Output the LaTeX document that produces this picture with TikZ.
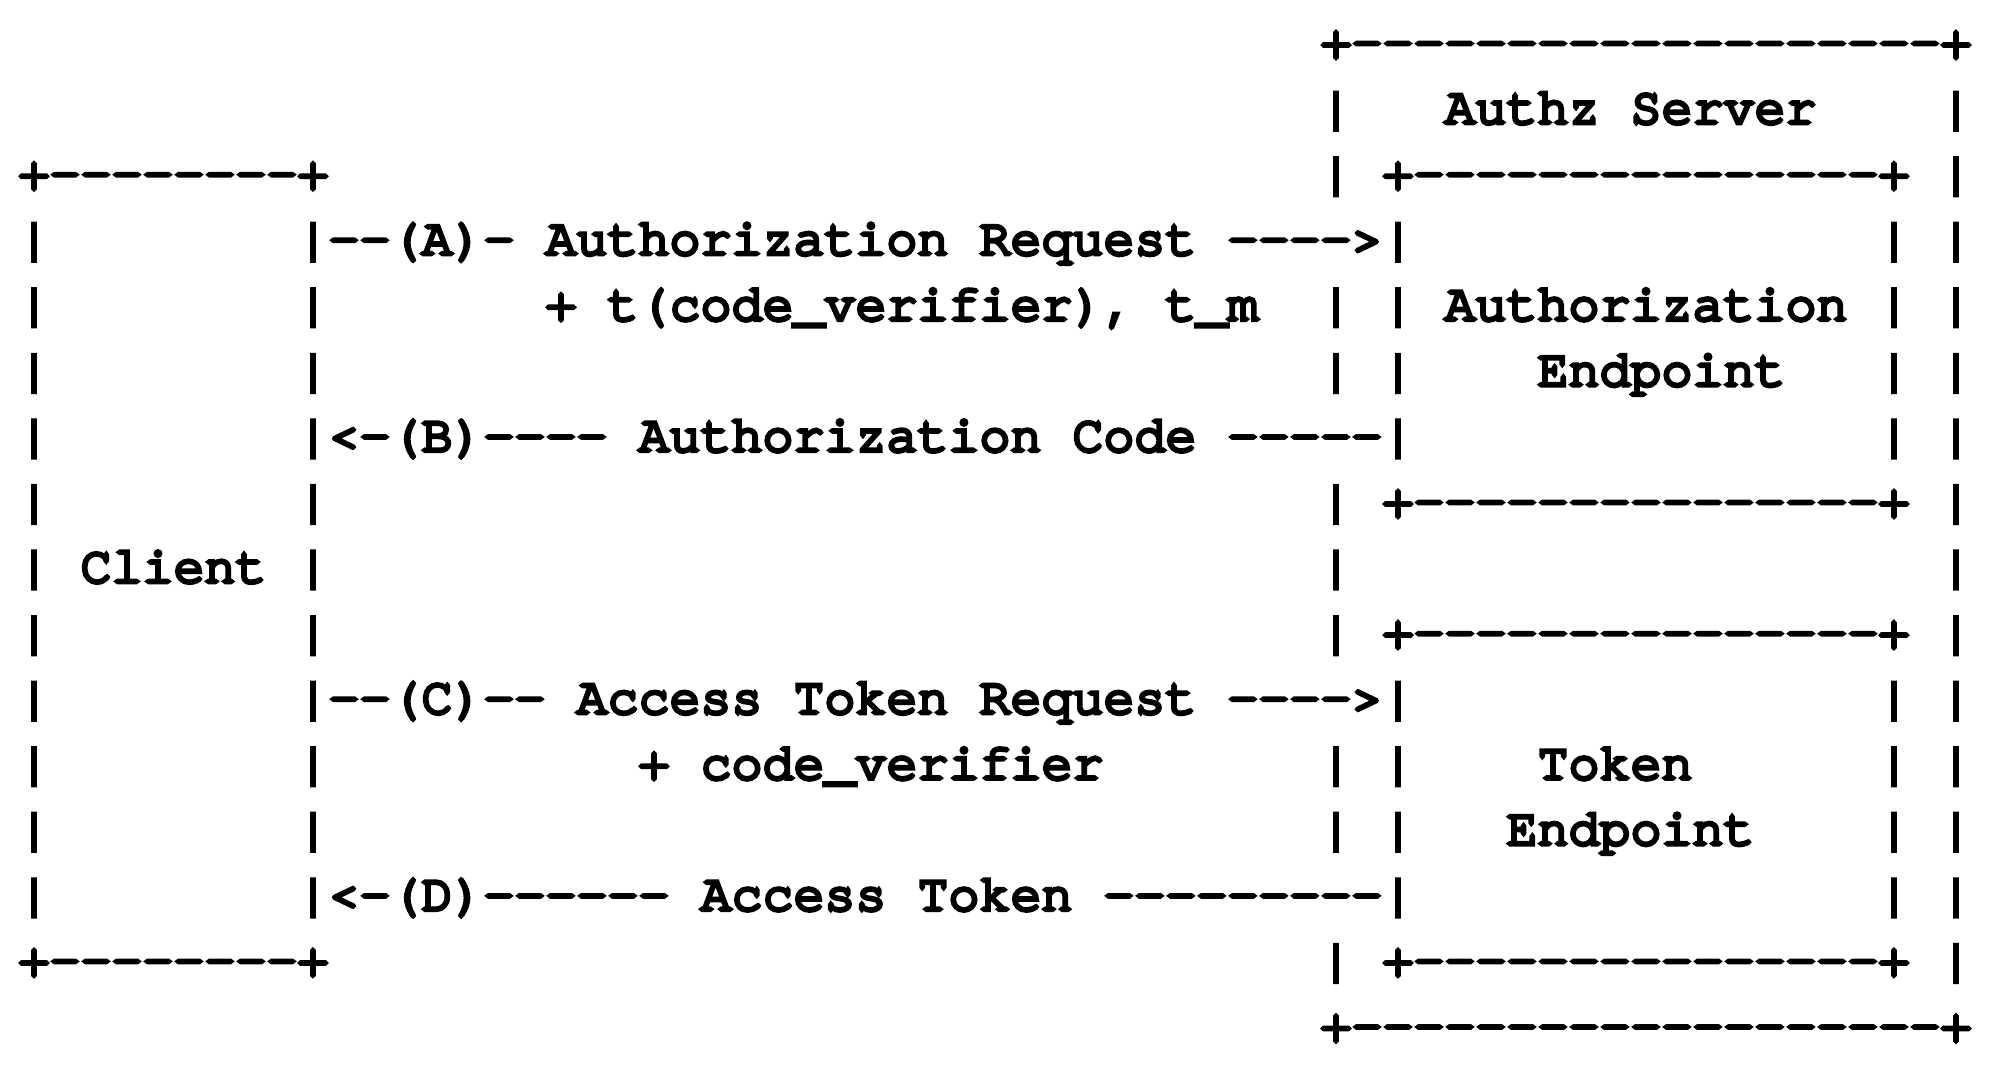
\documentclass[tikz,border=0pt]{standalone}
\usepackage{fontspec}
\newfontfamily\ascfont{TeX Gyre Cursor}[Ligatures=NoCommon, BoldFont={TeX Gyre Cursor}, BoldFeatures={FakeBold=7}]
\tikzset{
  asc/.style={inner sep=0pt, outer sep=0pt, anchor=base west,
    font=\ascfont\bfseries\fontsize{25.83pt}{30pt}\selectfont, text=black}
}
% segment: row, column, text
\newcommand\seg[3]{\node[asc] (r#1c#2) at ({18.5+31*#2},{58+65.56*#1}) {#3};}
\begin{document}
\begin{tikzpicture}[x=0.5pt,y=-0.5pt]
\useasboundingbox[fill=white] (0,0) rectangle (2000,1065);
% row 0
\seg{0}{42}{+-------------------+}
% row 1
\seg{1}{42}{|}\seg{1}{46}{Authz Server}\seg{1}{62}{|}
% row 2
\seg{2}{0}{+--------+}\seg{2}{42}{|}\seg{2}{44}{+---------------+}\seg{2}{62}{|}
% row 3
\seg{3}{0}{|}\seg{3}{9}{|--(A)- Authorization Request ---->|}\seg{3}{60}{|}\seg{3}{62}{|}
% row 4
\seg{4}{0}{|}\seg{4}{9}{|}\seg{4}{17}{+ t(code\_verifier), t\_m}\seg{4}{42}{|}\seg{4}{44}{|}\seg{4}{46}{Authorization}\seg{4}{60}{|}\seg{4}{62}{|}
% row 5
\seg{5}{0}{|}\seg{5}{9}{|}\seg{5}{42}{|}\seg{5}{44}{|}\seg{5}{49}{Endpoint}\seg{5}{60}{|}\seg{5}{62}{|}
% row 6
\seg{6}{0}{|}\seg{6}{9}{|<-(B)---- Authorization Code -----|}\seg{6}{60}{|}\seg{6}{62}{|}
% row 7
\seg{7}{0}{|}\seg{7}{9}{|}\seg{7}{42}{|}\seg{7}{44}{+---------------+}\seg{7}{62}{|}
% row 8
\seg{8}{0}{| Client |}\seg{8}{42}{|}\seg{8}{62}{|}
% row 9
\seg{9}{0}{|}\seg{9}{9}{|}\seg{9}{42}{|}\seg{9}{44}{+---------------+}\seg{9}{62}{|}
% row 10
\seg{10}{0}{|}\seg{10}{9}{|--(C)-- Access Token Request ---->|}\seg{10}{60}{|}\seg{10}{62}{|}
% row 11
\seg{11}{0}{|}\seg{11}{9}{|}\seg{11}{20}{+ code\_verifier}\seg{11}{42}{|}\seg{11}{44}{|}\seg{11}{49}{Token}\seg{11}{60}{|}\seg{11}{62}{|}
% row 12
\seg{12}{0}{|}\seg{12}{9}{|}\seg{12}{42}{|}\seg{12}{44}{|}\seg{12}{48}{Endpoint}\seg{12}{60}{|}\seg{12}{62}{|}
% row 13
\seg{13}{0}{|}\seg{13}{9}{|<-(D)------ Access Token ---------|}\seg{13}{60}{|}\seg{13}{62}{|}
% row 14
\seg{14}{0}{+--------+}\seg{14}{42}{|}\seg{14}{44}{+---------------+}\seg{14}{62}{|}
% row 15
\seg{15}{42}{+-------------------+}
\end{tikzpicture}
\end{document}
